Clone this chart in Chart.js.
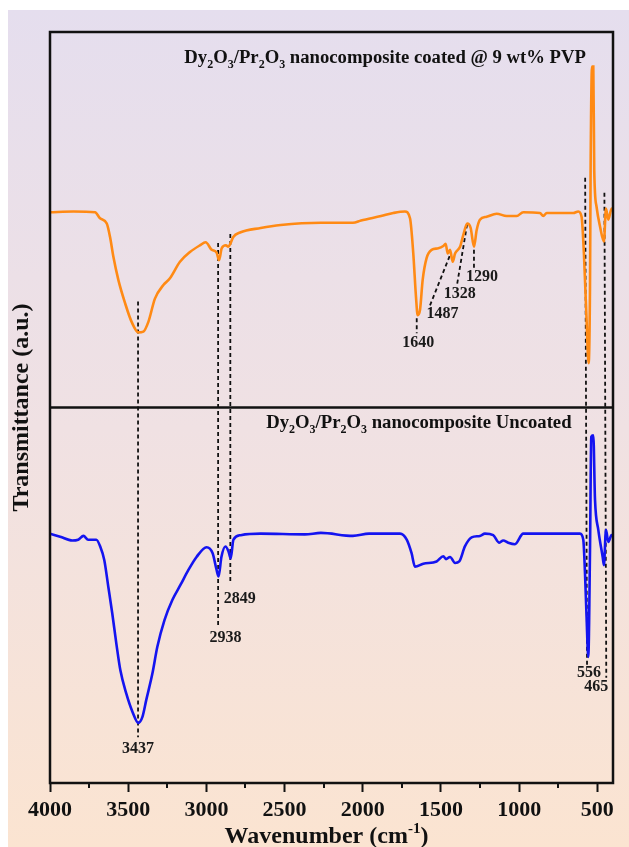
<!DOCTYPE html>
<html>
<head>
<meta charset="utf-8">
<script src="https://cdn.jsdelivr.net/npm/chart.js@4.4.1/dist/chart.umd.min.js"></script>
<style>
  html, body { margin: 0; padding: 0; background: #fff; }
  #wrap { width: 629px; height: 847px; }
</style>
</head>
<body>
<div id="wrap"><canvas id="ftir" width="629" height="847"></canvas></div>
<script>
// FTIR spectra, wavenumber (cm-1) vs transmittance (a.u., offset panels)
const coatedWn = [4000, 3850, 3712, 3680, 3637, 3616, 3595, 3563, 3520, 3478, 3435, 3403, 3371, 3329, 3275, 3233, 3169, 3105, 3041, 3005,
  2966, 2934, 2919, 2902, 2875, 2860, 2845, 2828, 2785, 2653, 2525, 2268, 2063, 2011, 1883, 1805, 1730, 1698, 1677, 1660,
  1649, 1634, 1617, 1592, 1560, 1517, 1485, 1470, 1457, 1442, 1425, 1410, 1378, 1357, 1332, 1310, 1289, 1272, 1251, 1208,
  1144, 1080, 1016, 974, 867, 846, 824, 654, 622, 601, 586, 569, 556, 547, 543, 534, 526, 520, 505, 483,
  458, 445, 430, 409, 400];
const coatedT = [76.0, 76.1, 76.0, 75.2, 74.5, 72.7, 70.1, 67.0, 63.9, 61.4, 60.0, 60.1, 61.4, 64.5, 66.3, 67.2, 69.4, 70.7, 71.6, 72.0,
  71.0, 70.6, 69.6, 71.2, 71.6, 71.4, 71.9, 72.7, 73.3, 73.9, 74.3, 74.6, 74.6, 74.9, 75.5, 75.9, 76.1, 75.2, 70.5, 64.8,
  62.3, 63.0, 67.0, 69.9, 71.0, 71.2, 71.5, 71.8, 70.5, 71.0, 69.4, 70.5, 71.4, 73.0, 74.5, 73.9, 71.4, 73.6, 75.0, 75.4,
  75.8, 75.5, 75.5, 76.0, 75.9, 75.5, 75.9, 75.9, 76.1, 75.4, 70.5, 61.7, 55.9, 66.1, 82.1, 95.4, 95.4, 81.6, 76.7, 74.1,
  72.1, 76.5, 75.0, 76.5, 76.2];

const uncoatedWn = [4000, 3935, 3858, 3820, 3786, 3756, 3704, 3679, 3653, 3627, 3602, 3576, 3550, 3512, 3473, 3435, 3409, 3384, 3345, 3314,
  3268, 3217, 3165, 3114, 3063, 2999, 2960, 2935, 2922, 2904, 2878, 2858, 2845, 2827, 2781, 2653, 2370, 2268, 2063, 1960,
  1762, 1719, 1688, 1666, 1613, 1528, 1485, 1468, 1442, 1410, 1383, 1347, 1304, 1251, 1219, 1166, 1127, 1102, 1070, 1027,
  974, 718, 611, 590, 579, 569, 558, 547, 539, 526, 515, 494, 466, 458, 445, 430, 409, 400];
const uncoatedT = [33.2, 32.8, 32.3, 32.4, 32.9, 32.4, 32.4, 31.5, 29.7, 26.1, 22.6, 18.6, 15.0, 11.9, 9.5, 8.0, 8.8, 11.1, 14.6, 18.1,
  21.7, 24.4, 26.4, 28.4, 30.1, 31.4, 30.6, 28.4, 27.5, 30.1, 31.5, 30.8, 29.9, 32.4, 33.0, 33.2, 33.1, 33.3, 32.9, 33.2,
  33.2, 32.4, 30.6, 28.8, 29.2, 29.5, 30.2, 29.8, 30.1, 29.3, 29.5, 31.5, 32.7, 32.9, 33.2, 33.0, 32.0, 32.3, 32.0, 31.8,
  33.2, 33.2, 33.2, 32.4, 27.9, 22.1, 16.8, 31.0, 46.1, 46.3, 37.7, 33.7, 30.1, 29.0, 33.7, 32.1, 33.0, 32.8];

// dashed guide segments: [wn1, t1, wn2, t2]
const guideLines = [
  [3437, 64.1, 3437, 6.1],
  [2925, 71.9, 2925, 20.8],
  [2847, 73.1, 2847, 26.6],
  [1655, 61.9, 1655, 59.9],
  [1570, 63.6, 1442, 70.3],
  [1396, 66.5, 1332, 74.5],
  [1289, 71.0, 1289, 68.6],
  [578, 80.6, 566, 15.5],
  [455, 78.6, 443, 14.0]
];

// peak labels and where they sit
const peakLabels = ['3437', '2938', '2849', '1640', '1487', '1328', '1290', '556', '465'];
const peakLabelWn = [3437, 2877, 2787, 1645, 1490, 1380, 1238, 554, 507];
const peakLabelT = [4.6, 19.3, 24.5, 58.6, 62.5, 65.1, 67.4, 14.6, 12.8];

const xTicksMajor = [500, 1000, 1500, 2000, 2500, 3000, 3500, 4000];
const xTicksMinor = [750, 1250, 1750, 2250, 2750, 3250, 3750];
const panelDivider = 50;

const SERIF = "'Liberation Serif', 'Times New Roman', serif";

const toPoints = (xs, ys) => xs.map((v, i) => ({ x: v, y: ys[i] }));

const guidePoints = [];
guideLines.forEach(([x1, y1, x2, y2]) => {
  guidePoints.push({ x: x1, y: y1 }, { x: x2, y: y2 }, { x: x2, y: null });
});

// text with sub/superscripts; parts = [text, mode] (0 normal, 1 sub, 2 sup)
function drawRich(ctx, parts, x, y, size, align) {
  const big = `bold ${size}px ${SERIF}`;
  const small = `bold ${Math.round(size * 0.62)}px ${SERIF}`;
  let total = 0;
  parts.forEach(([t, m]) => { ctx.font = m ? small : big; total += ctx.measureText(t).width; });
  let cx = align === 'right' ? x - total : align === 'center' ? x - total / 2 : x;
  ctx.textAlign = 'left';
  ctx.textBaseline = 'alphabetic';
  parts.forEach(([t, m]) => {
    ctx.font = m ? small : big;
    const dy = m === 1 ? size * 0.28 : m === 2 ? -size * 0.4 : 0;
    ctx.fillText(t, cx, y + dy);
    cx += ctx.measureText(t).width;
  });
}

const decorPlugin = {
  id: 'decor',
  beforeDraw(chart) {
    const { ctx, width, height } = chart;
    ctx.save();
    const g = ctx.createLinearGradient(0, 10, 0, height);
    g.addColorStop(0, '#e5deee');
    g.addColorStop(0.5, '#f0e1e3');
    g.addColorStop(1, '#fbe4d1');
    ctx.fillStyle = g;
    ctx.fillRect(8, 10, width - 8, height - 10);
    ctx.restore();
  },
  afterDatasetsDraw(chart) {
    const { ctx, chartArea: a, scales: { x, y } } = chart;
    ctx.save();
    // frame
    ctx.strokeStyle = '#111';
    ctx.lineWidth = 2.5;
    ctx.strokeRect(a.left, a.top, a.right - a.left, a.bottom - a.top);
    // minor ticks
    ctx.lineWidth = 2;
    xTicksMinor.forEach(v => {
      const px = Math.round(x.getPixelForValue(v));
      ctx.beginPath();
      ctx.moveTo(px, a.bottom);
      ctx.lineTo(px, a.bottom + 5);
      ctx.stroke();
    });
    // peak labels
    ctx.fillStyle = '#1a1a1a';
    ctx.textAlign = 'center';
    ctx.textBaseline = 'middle';
    ctx.font = `bold 16px ${SERIF}`;
    peakLabels.forEach((t, i) => {
      ctx.fillText(t, x.getPixelForValue(peakLabelWn[i]), y.getPixelForValue(peakLabelT[i]));
    });
    // panel titles
    ctx.fillStyle = '#111';
    drawRich(ctx, [['Dy', 0], ['2', 1], ['O', 0], ['3', 1], ['/Pr', 0], ['2', 1], ['O', 0], ['3', 1],
      [' nanocomposite coated @ 9 wt% PVP', 0]], x.getPixelForValue(573), y.getPixelForValue(95.9), 18.7, 'right');
    drawRich(ctx, [['Dy', 0], ['2', 1], ['O', 0], ['3', 1], ['/Pr', 0], ['2', 1], ['O', 0], ['3', 1],
      [' nanocomposite Uncoated', 0]], x.getPixelForValue(665), y.getPixelForValue(47.3), 18.7, 'right');
    // axis titles
    drawRich(ctx, [['Wavenumber (cm', 0], ['-1', 2], [')', 0]], (a.left + a.right) / 2 - 5, 843, 24, 'center');
    ctx.translate(22, (a.top + a.bottom) / 2);
    ctx.rotate(-Math.PI / 2);
    ctx.textAlign = 'center';
    ctx.textBaseline = 'middle';
    ctx.font = `bold 24px ${SERIF}`;
    ctx.fillText('Transmittance (a.u.)', 0, 0);
    ctx.restore();
  }
};

new Chart(document.getElementById('ftir'), {
  type: 'line',
  data: {
    datasets: [
      {
        label: 'coated',
        data: toPoints(coatedWn, coatedT),
        borderColor: '#ff8a14',
        borderWidth: 2.6,
        pointRadius: 0,
        cubicInterpolationMode: 'monotone',
        order: 1
      },
      {
        label: 'uncoated',
        data: toPoints(uncoatedWn, uncoatedT),
        borderColor: '#1414f0',
        borderWidth: 2.6,
        pointRadius: 0,
        cubicInterpolationMode: 'monotone',
        order: 1
      },
      {
        label: 'divider',
        data: [{ x: 4000, y: panelDivider }, { x: 400, y: panelDivider }],
        borderColor: '#111',
        borderWidth: 2.5,
        pointRadius: 0,
        order: 3
      },
      {
        label: 'guides',
        data: guidePoints,
        borderColor: '#111',
        borderWidth: 1.8,
        borderDash: [4, 3],
        pointRadius: 0,
        spanGaps: false,
        order: 2
      }
    ]
  },
  options: {
    responsive: false,
    animation: false,
    devicePixelRatio: 1,
    layout: { padding: { left: 8, top: 32, right: 16, bottom: 0 } },
    plugins: {
      legend: { display: false },
      tooltip: { enabled: false }
    },
    scales: {
      x: {
        type: 'linear',
        reverse: true,
        min: 400,
        max: 4000,
        afterBuildTicks: (s) => { s.ticks = xTicksMajor.map(v => ({ value: v })); },
        afterFit: (s) => { s.height = 64; },
        border: { display: false },
        grid: { drawOnChartArea: false, drawTicks: true, tickLength: 9, tickWidth: 2, tickColor: '#111' },
        ticks: {
          padding: 5,
          color: '#111',
          font: { family: SERIF, size: 22, weight: 'bold' },
          maxRotation: 0,
          callback: (v) => String(v)
        }
      },
      y: {
        min: 0,
        max: 100,
        afterFit: (s) => { s.width = 42; },
        border: { display: false },
        grid: { display: false },
        ticks: { display: false }
      }
    }
  },
  plugins: [decorPlugin]
});
</script>
</body>
</html>
